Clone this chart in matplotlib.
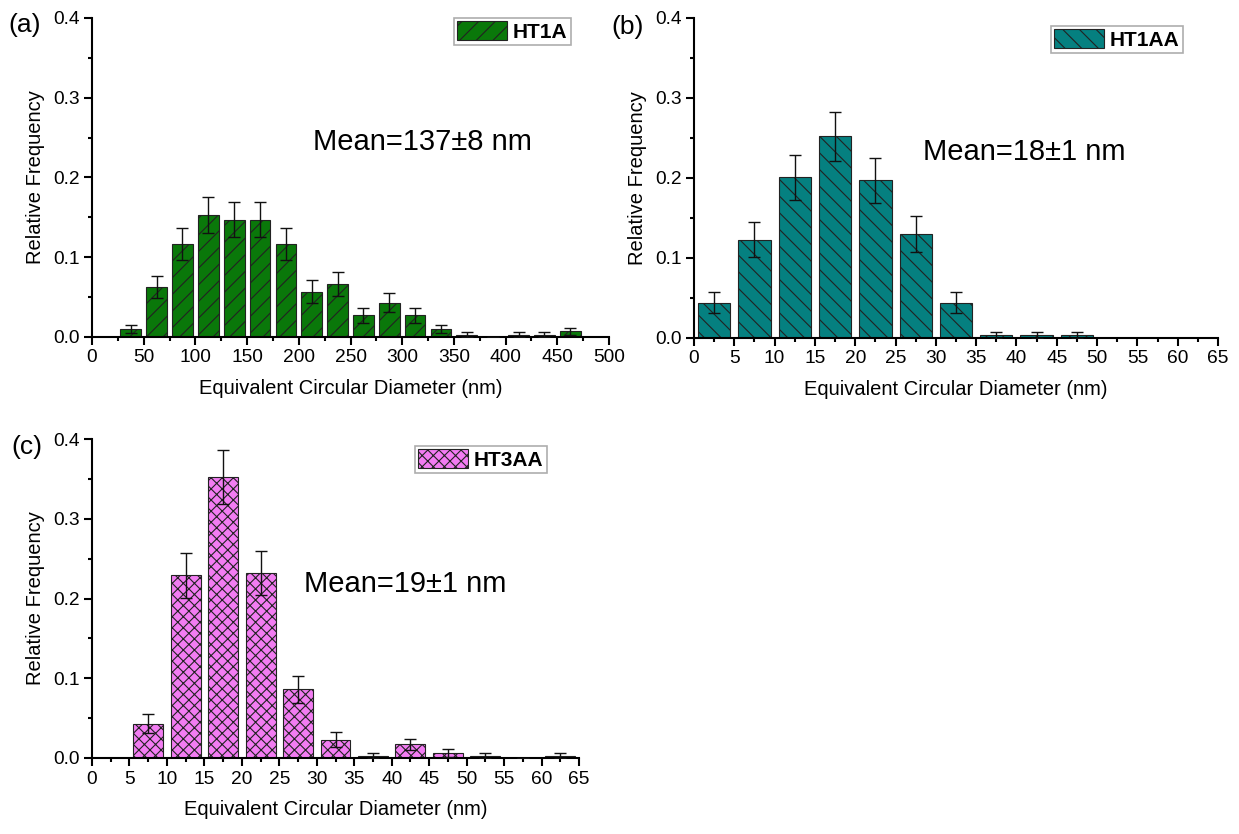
import matplotlib
matplotlib.use("Agg")
import matplotlib.pyplot as plt
from matplotlib.ticker import MultipleLocator, FormatStrFormatter

plt.rcParams['font.family'] = ['Liberation Sans', 'DejaVu Sans']
plt.rcParams['hatch.linewidth'] = 0.8

# ---------------- data ----------------
# (a) HT1A
a_centers = [37.5, 62.5, 87.5, 112.5, 137.5, 162.5, 187.5, 212.5, 237.5, 262.5,
             287.5, 312.5, 337.5, 362.5, 387.5, 412.5, 437.5, 462.5]
a_freq = [0.010, 0.063, 0.117, 0.153, 0.147, 0.147, 0.117, 0.057, 0.067, 0.027,
          0.043, 0.027, 0.010, 0.003, 0.0, 0.003, 0.003, 0.007]
a_err = [0.005, 0.014, 0.020, 0.023, 0.022, 0.022, 0.020, 0.014, 0.015, 0.009,
         0.012, 0.009, 0.005, 0.003, 0.0, 0.003, 0.003, 0.004]

# (b) HT1AA
b_centers = [2.5, 7.5, 12.5, 17.5, 22.5, 27.5, 32.5, 37.5, 42.5, 47.5]
b_freq = [0.044, 0.123, 0.201, 0.252, 0.197, 0.130, 0.044, 0.004, 0.004, 0.004]
b_err = [0.013, 0.022, 0.028, 0.031, 0.028, 0.022, 0.013, 0.004, 0.004, 0.004]

# (c) HT3AA
c_centers = [7.5, 12.5, 17.5, 22.5, 27.5, 32.5, 37.5, 42.5, 47.5, 52.5, 57.5, 62.5]
c_freq = [0.043, 0.229, 0.352, 0.232, 0.086, 0.023, 0.003, 0.017, 0.006, 0.003, 0.0, 0.003]
c_err = [0.012, 0.028, 0.034, 0.028, 0.017, 0.009, 0.003, 0.007, 0.005, 0.003, 0.0, 0.003]

labels = ["HT1A", "HT1AA", "HT3AA"]
means = ["Mean=137±8 nm", "Mean=18±1 nm", "Mean=19±1 nm"]
xlabel = "Equivalent Circular Diameter (nm)"
ylabel = "Relative Frequency"

# ---------------- figure ----------------
W, H = 1239, 834
fig = plt.figure(figsize=(W / 100, H / 100), dpi=100)


def px_axes(left, right, top, bottom):
    return fig.add_axes([left / W, 1 - bottom / H, (right - left) / W, (bottom - top) / H])


def style(ax, xmax, xmajor, xminor):
    for s in ['top', 'right']:
        ax.spines[s].set_visible(False)
    for s in ['left', 'bottom']:
        ax.spines[s].set_linewidth(1.5)
    ax.set_xlim(0, xmax)
    ax.set_ylim(0, 0.4)
    ax.xaxis.set_major_locator(MultipleLocator(xmajor))
    ax.xaxis.set_minor_locator(MultipleLocator(xminor))
    ax.yaxis.set_major_locator(MultipleLocator(0.1))
    ax.yaxis.set_minor_locator(MultipleLocator(0.05))
    ax.yaxis.set_major_formatter(FormatStrFormatter('%.1f'))
    ax.tick_params(which='major', direction='out', length=6, width=1.5, labelsize=13.8, pad=3)
    ax.tick_params(which='minor', direction='out', length=3, width=1.5)
    ax.set_xlabel(xlabel, fontsize=14.5, labelpad=9)
    ax.set_ylabel(ylabel, fontsize=14.5, labelpad=6)
    ax.patch.set_alpha(0)


def draw(ax, centers, freq, err, width, color, hatch, label):
    ax.bar(centers, freq, width=width, color=color, edgecolor='#222222', linewidth=0.8,
           hatch=hatch, label=label, zorder=2)
    ax.errorbar(centers, freq, yerr=err, fmt='none', ecolor='#111111', elinewidth=1.0,
                capsize=4, capthick=1.0, zorder=3)


def legend(ax, x, y):
    leg = ax.legend(loc='upper right', bbox_to_anchor=(x, y), frameon=True, fancybox=False,
                    prop={'weight': 'bold', 'size': 15}, handlelength=2.4, handleheight=1.0,
                    handletextpad=0.3, borderpad=0.15, borderaxespad=0)
    leg.get_frame().set_edgecolor('#999999')
    leg.get_frame().set_linewidth(1.2)


# (a)
axa = px_axes(92, 609, 18, 337)
draw(axa, a_centers, a_freq, a_err, 20, '#0a780a', '//', labels[0])
style(axa, 500, 50, 25)
legend(axa, 0.926, 1.0)
axa.text(0.427, 0.612, means[0], transform=axa.transAxes, fontsize=21, va='center', ha='left')

# (b)
axb = px_axes(694, 1218, 18, 338)
draw(axb, b_centers, b_freq, b_err, 4, '#058080', '\\\\', labels[1])
style(axb, 65, 5, 2.5)
legend(axb, 0.933, 0.975)
axb.text(0.437, 0.580, means[1], transform=axb.transAxes, fontsize=21, va='center', ha='left')

# (c)
axc = px_axes(92, 579, 439, 758)
draw(axc, c_centers, c_freq, c_err, 4, '#f27cf2', 'xxx', labels[2])
style(axc, 65, 5, 2.5)
legend(axc, 0.934, 0.978)
axc.text(0.435, 0.545, means[2], transform=axc.transAxes, fontsize=21, va='center', ha='left')

# panel letters
fig.text(8 / W, 1 - 25 / H, "(a)", fontsize=19, va='center', ha='left')
fig.text(611 / W, 1 - 27 / H, "(b)", fontsize=19, va='center', ha='left')
fig.text(11 / W, 1 - 447 / H, "(c)", fontsize=19, va='center', ha='left')

fig.savefig("out.png", dpi=100, facecolor='white')
